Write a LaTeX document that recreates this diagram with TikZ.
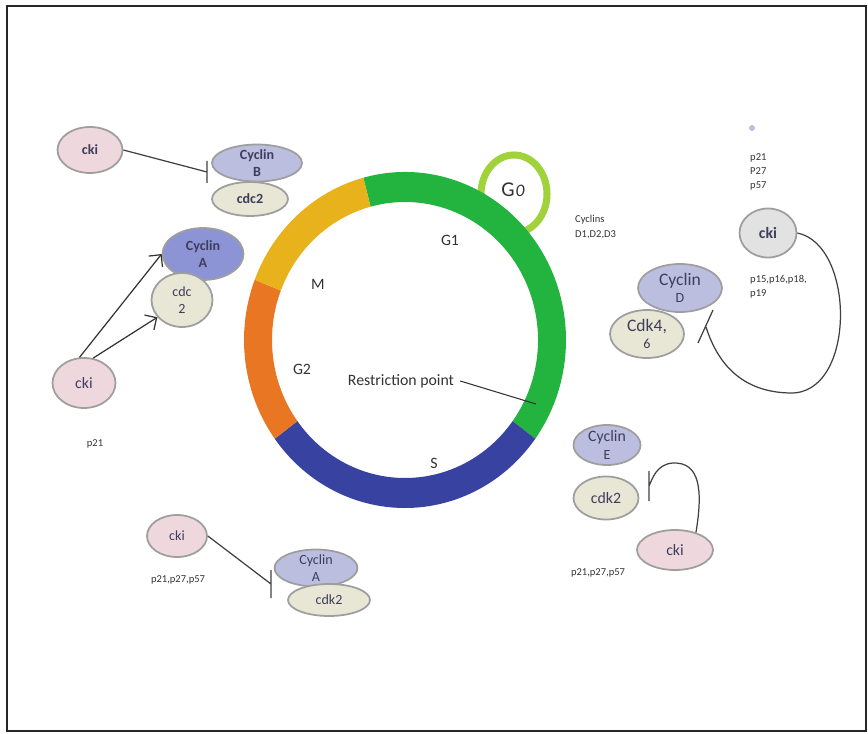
\documentclass[tikz,border=0pt]{standalone}
\usepackage{fontspec}
\setmainfont{Carlito}
\usepackage{xcolor}
\usetikzlibrary{arrows.meta, shapes.geometric}

\definecolor{phasegreen}{RGB}{34,180,62}
\definecolor{phaseblue}{RGB}{56,66,160}
\definecolor{phaseorange}{RGB}{232,118,34}
\definecolor{phaseyellow}{RGB}{232,178,28}
\definecolor{gzerogreen}{RGB}{160,210,60}
\definecolor{ckipink}{RGB}{238,216,222}
\definecolor{cyclinblue}{RGB}{188,190,224}
\definecolor{cyclinAblue}{RGB}{140,148,214}
\definecolor{cdkbeige}{RGB}{232,230,212}
\definecolor{ckigray}{RGB}{226,226,226}
\definecolor{rimgray}{RGB}{158,158,158}
\definecolor{labelcol}{RGB}{62,62,92}

\begin{document}
\begin{tikzpicture}[x=0.02cm, y=-0.02cm, >={Straight Barb[length=5pt]},
    blob/.style={ellipse, draw=rimgray, line width=1pt, inner sep=0pt},
    says/.style={label={[blobtext]center:#1}},
    blobtext/.style={align=center, text=labelcol, inner sep=0pt, font=\fontsize{8}{10}\selectfont},
    ckinode/.style={blob, fill=ckipink},
    cyclinnode/.style={blob, fill=cyclinblue},
    cdknode/.style={blob, fill=cdkbeige},
    smalltext/.style={align=left, text=black!80, font=\fontsize{6}{8}\selectfont},
    phaselabel/.style={text=black!80, font=\fontsize{9}{10}\selectfont},
    inhib/.style={draw=black!75, line width=0.7pt}]
    \useasboundingbox (0,0) rectangle (868,733);
    \draw[line width=1.5pt, black!85] (7,6) rectangle (866,731);

    % G0 loop
    \draw[gzerogreen, line width=4pt] (514,194) ellipse [x radius=33, y radius=39];
    \node[inner sep=1pt, text=black!80, font=\fontsize{12}{12}\selectfont] (gzero) at (513,190) {G\kern0.6pt\textit{\fontsize{10}{10}\selectfont 0}};

    % cell cycle ring
    \begin{scope}[shift={(405,340)}, yscale=-1]
        \foreach \from/\to/\col in {105/-36/phasegreen, -36/-144/phaseblue, 216/159/phaseorange, 159/105/phaseyellow}
            \fill[\col] (\from:161 and 168) arc[start angle=\from, end angle=\to, x radius=161, y radius=168]
                -- (\to:133 and 138) arc[start angle=\to, end angle=\from, x radius=133, y radius=138] -- cycle;
    \end{scope}
    \node[phaselabel] (gone) at (450,240) {G1};
    \node[phaselabel] (mlab) at (318,284) {M};
    \node[phaselabel] (gtwo) at (302,369) {G2};
    \node[phaselabel] (slab) at (434,463) {S};
    \node[phaselabel] (rp) at (401,381) {Restriction point};
    \coordinate (rpend) at (536,404);
    \draw[line width=0.6pt, black!80] (rp.east) -- (rpend);

    % Cyclin B / cdc2
    \node[ckinode, minimum width=1.3cm, minimum height=0.92cm, says={\textbf{cki}}] (ckiB) at (90,150) {};
    \node[cyclinnode, minimum width=1.8cm, minimum height=0.74cm, says={\textbf{Cyclin}\\\textbf{B}}] (cycB) at (257,163) {};
    \node[cdknode, minimum width=1.52cm, minimum height=0.68cm, says={\textbf{cdc2}}] (cdcB) at (250,199) {};
    \coordinate (barB) at (207,172);
    \draw[inhib] (ckiB.east) -- (barB) ++(0,-11) -- ++(0,22);

    % Cyclin A / cdc 2
    \node[cyclinnode, fill=cyclinAblue, minimum width=1.62cm, minimum height=1.04cm, says={\textbf{Cyclin}\\\textbf{A}}] (cycA) at (203,254) {};
    \node[cdknode, minimum width=1.22cm, minimum height=1.08cm, says={cdc\\2}] (cdcA) at (182,300) {};
    \node[ckinode, minimum width=1.26cm, minimum height=1cm, says={\fontsize{9}{10}\selectfont cki}] (ckiA) at (84,383) {};
    \draw[->, line width=0.7pt, black!80] (ckiA.100) -- (cycA.west);
    \draw[->, line width=0.7pt, black!80] (ckiA.70) -- (cdcA.215);
    \node[smalltext] (pA) at (95,444) {p21};

    % Cyclin D / Cdk4,6
    \fill[cyclinblue] (752,128) circle[radius=3];
    \node[smalltext, anchor=west] (pDa) at (744,172) {p21\\P27\\p57};
    \node[smalltext, anchor=west] (cycl) at (569,227) {Cyclins\\D1,D2,D3};
    \node[blob, fill=ckigray, minimum width=1.14cm, minimum height=0.98cm, says={\fontsize{9}{10}\selectfont\textbf{cki}}] (ckiD) at (768,233) {};
    \node[smalltext, anchor=west] (pDb) at (744,287) {p15,p16,p18,\\p19};
    \node[cyclinnode, minimum width=1.68cm, minimum height=0.96cm, says={\fontsize{10}{12}\selectfont Cyclin\\D}] (cycD) at (680,288) {};
    \node[cdknode, minimum width=1.48cm, minimum height=0.96cm, says={\fontsize{10}{12}\selectfont Cdk4,\\6}] (cdkD) at (647,334) {};
    \coordinate (barD) at (706,327);
    \draw[inhib] (ckiD.east) .. controls (856,245) and (856,395) .. (790,393) .. controls (735,392) and (715,355) .. (barD) ++(-8,16) -- ++(15,-33);

    % Cyclin E / cdk2
    \node[cyclinnode, minimum width=1.34cm, minimum height=0.8cm, says={\fontsize{9}{11}\selectfont Cyclin\\E}] (cycE) at (607,445) {};
    \node[cdknode, minimum width=1.3cm, minimum height=0.86cm, says={\fontsize{9}{11}\selectfont cdk2}] (cdkE) at (606,498) {};
    \node[ckinode, minimum width=1.52cm, minimum height=0.8cm, says={\fontsize{9}{11}\selectfont cki}] (ckiE) at (675,550) {};
    \coordinate (barE) at (649,486);
    \draw[inhib] (ckiE.40) .. controls (703,490) and (700,462) .. (673,463) .. controls (656,464) and (652,480) .. (barE) ++(0,-15) -- ++(0,30);
    \node[smalltext] (pE) at (598,573) {p21,p27,p57};

    % Cyclin A / cdk2 (bottom)
    \node[ckinode, minimum width=1.2cm, minimum height=0.84cm, says={cki}] (ckiAb) at (177,536) {};
    \node[smalltext] (pAb) at (178,580) {p21,p27,p57};
    \node[cyclinnode, minimum width=1.66cm, minimum height=0.74cm, says={Cyclin\\A}] (cycAb) at (316,568) {};
    \node[cdknode, minimum width=1.64cm, minimum height=0.64cm, says={cdk2}] (cdkAb) at (329,600) {};
    \coordinate (barAb) at (271,584);
    \draw[inhib] (ckiAb.east) -- (barAb) ++(0,-14) -- ++(0,28);
\end{tikzpicture}
\end{document}
